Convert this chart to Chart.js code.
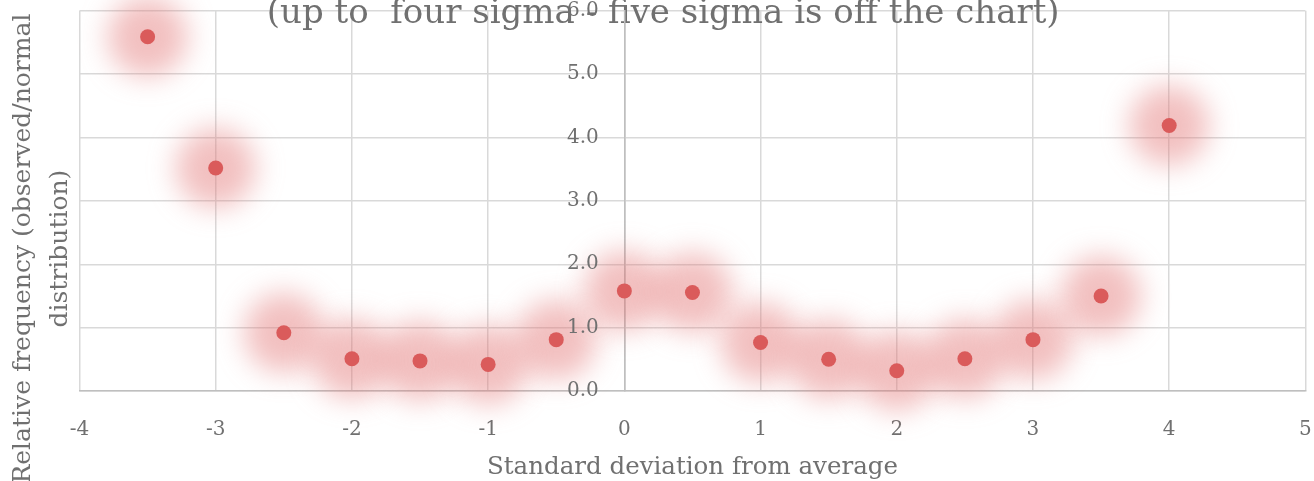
<!DOCTYPE html>
<html>
<head>
<meta charset="utf-8">
<script src="https://cdn.jsdelivr.net/npm/chart.js@4.4.1/dist/chart.umd.min.js"></script>
<style>
  html, body { margin: 0; padding: 0; background: #ffffff; }
  #wrap { width: 1314px; height: 481px; }
</style>
</head>
<body>
<div id="wrap"><canvas id="chart" width="1314" height="481"></canvas></div>
<script>
// Standard deviations from the average (x) and observed/normal frequency ratio (y)
const sigmaSteps = [-3.5, -3, -2.5, -2, -1.5, -1, -0.5, 0, 0.5, 1, 1.5, 2, 2.5, 3, 3.5, 4];
const relativeFrequency = [5.59, 3.52, 0.92, 0.51, 0.475, 0.42, 0.81, 1.58, 1.555, 0.765, 0.50, 0.32, 0.51, 0.81, 1.50, 4.19];
const xRange = [-4, 5];
const yRange = [0, 6];

const chartTitle = '(up to  four sigma - five sigma is off the chart)';
const xAxisTitle = 'Standard deviation from average';
const yAxisTitle = ['Relative frequency (observed/normal', 'distribution)'];

const FONT = '"DejaVu Serif"';
const TEXT = '#707070';
const GRID = '#d9d9d9';
const AXIS = '#bfbfbf';
const CLEAR = 'rgba(0,0,0,0)';

// the vertical axis title sits a little below the middle of the plot
const TITLE_SHIFT = ' '.repeat(12);
// gap between the zero line and the right edge of the y value labels
const Y_LABEL_GAP = 25.5;

const points = sigmaSteps.map((x, i) => ({ x: x, y: relativeFrequency[i] }));

// Soft halo behind each marker: the halo dataset is drawn through a blur filter
const haloPlugin = {
  id: 'halo',
  beforeDatasetDraw(chart, args) {
    if (chart.data.datasets[args.index].halo) {
      chart.ctx.save();
      chart.ctx.filter = 'blur(14px)';
    }
  },
  afterDatasetDraw(chart, args) {
    if (chart.data.datasets[args.index].halo) {
      chart.ctx.restore();
    }
  }
};

// Value labels of the centred y axis, right-aligned a little left of x = 0
const yLabelPlugin = {
  id: 'yLabels',
  afterDatasetsDraw(chart) {
    const xs = chart.scales.x;
    const ys = chart.scales.y;
    const ctx = chart.ctx;
    const right = xs.getPixelForValue(0) - Y_LABEL_GAP;
    ctx.save();
    ctx.font = '20px ' + FONT;
    ctx.fillStyle = TEXT;
    ctx.textAlign = 'right';
    ctx.textBaseline = 'middle';
    ys.ticks.forEach((t) => {
      ctx.fillText(Number(t.value).toFixed(1), right, ys.getPixelForValue(t.value));
    });
    ctx.restore();
  }
};

new Chart(document.getElementById('chart'), {
  type: 'scatter',
  data: {
    datasets: [
      {
        label: 'Relative frequency',
        data: points,
        pointRadius: 7.5,
        pointBorderWidth: 0,
        backgroundColor: '#da5b5b',
        borderColor: '#da5b5b',
        order: 0
      },
      {
        label: 'halo',
        halo: true,
        data: points,
        pointRadius: 40,
        pointBorderWidth: 0,
        backgroundColor: 'rgba(226,118,118,0.46)',
        borderColor: CLEAR,
        clip: false,
        order: 1
      }
    ]
  },
  options: {
    responsive: false,
    devicePixelRatio: 1,
    animation: false,
    events: [],
    layout: { autoPadding: false, padding: { left: 21, right: 8.6, top: 0, bottom: 0 } },
    plugins: {
      legend: { display: false },
      tooltip: { enabled: false },
      title: {
        display: true,
        text: chartTitle,
        color: TEXT,
        font: { family: FONT, size: 34, weight: 'normal', lineHeight: 1.2 },
        padding: { top: -6.4, bottom: -23.6 }
      }
    },
    scales: {
      x: {
        type: 'linear',
        position: 'bottom',
        min: xRange[0],
        max: xRange[1],
        ticks: {
          stepSize: 1,
          color: TEXT,
          padding: 0,
          font: { family: FONT, size: 20, lineHeight: 1.2 }
        },
        grid: {
          color: (ctx) => (ctx.tick && ctx.tick.value === 0 ? AXIS : GRID),
          lineWidth: 1.5,
          drawTicks: true,
          tickLength: 26.5,
          tickColor: CLEAR
        },
        border: { color: AXIS, width: 1.5 },
        title: {
          display: true,
          text: xAxisTitle,
          color: TEXT,
          font: { family: FONT, size: 24.5, lineHeight: 1.2 },
          padding: { top: 11.7, bottom: -1.6 }
        }
      },
      y: {
        type: 'linear',
        position: { x: 0 },
        min: yRange[0],
        max: yRange[1],
        ticks: {
          stepSize: 1,
          display: false
        },
        grid: { color: GRID, lineWidth: 1.5, drawTicks: false },
        border: { color: AXIS, width: 1.5 }
      },
      yTitle: {
        type: 'linear',
        position: 'left',
        min: yRange[0],
        max: yRange[1],
        ticks: { display: false },
        grid: { display: false, drawTicks: false },
        border: { display: false },
        title: {
          display: true,
          text: yAxisTitle.map((line) => line + TITLE_SHIFT),
          color: TEXT,
          font: { family: FONT, size: 25, lineHeight: 1.46 },
          padding: { top: -15.75, bottom: 1.25 }
        }
      }
    }
  },
  plugins: [haloPlugin, yLabelPlugin]
});
</script>
</body>
</html>
